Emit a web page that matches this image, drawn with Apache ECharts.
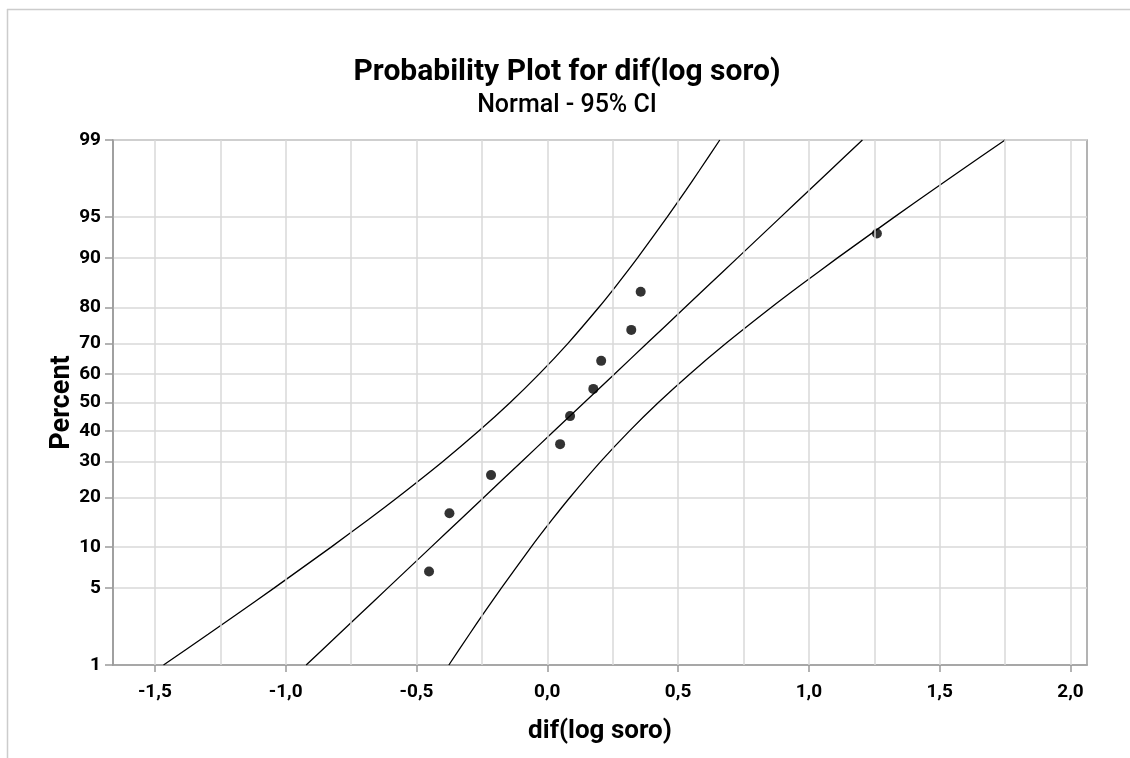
<!DOCTYPE html>
<html>
<head>
<meta charset="utf-8">
<title>Probability Plot for dif(log soro)</title>
<script src="https://cdn.jsdelivr.net/npm/echarts@6/dist/echarts.min.js"></script>
<style>
  html, body { margin: 0; padding: 0; background: #fff; }
  #chart { width: 1130px; height: 758px; }
</style>
</head>
<body>
<div id="chart"></div>
<script>
// Observations of dif(log soro) and their plotting positions (median ranks, %)
const POINT_X   = [-0.452, -0.374, -0.215, 0.049, 0.087, 0.176, 0.206, 0.321, 0.357, 1.260];
const POINT_PCT = [6.7, 16.3, 26.0, 35.6, 45.2, 54.8, 64.4, 74.0, 83.7, 93.3];

// Percent levels at which the fitted line and the 95% confidence bounds are traced
const CURVE_PCT = [1, 2, 3, 5, 10, 15, 20, 30, 40, 50, 60, 70, 80, 85, 90, 95, 97, 98, 99];
const FIT_X     = [-0.9216, -0.7970, -0.7180, -0.6102, -0.4442, -0.3321, -0.2431, -0.0982, 0.0257, 0.1415,
                   0.2573, 0.3812, 0.5261, 0.6151, 0.7272, 0.8932, 1.0010, 1.0800, 1.2046];
const LOWER_X   = [-1.4669, -1.2964, -1.1893, -1.0447, -0.8264, -0.6833, -0.5727, -0.4003, -0.2621, -0.1417,
                   -0.0305, 0.0791, 0.1965, 0.2639, 0.3450, 0.4587, 0.5297, 0.5806, 0.6593];
const UPPER_X   = [-0.3763, -0.2976, -0.2467, -0.1757, -0.0620, 0.0191, 0.0865, 0.2039, 0.3135, 0.4247,
                   0.5451, 0.6833, 0.8557, 0.9663, 1.1094, 1.3277, 1.4723, 1.5794, 1.7499];

// Axis ticks and grid positions
const PERCENT_TICKS = [1, 5, 10, 20, 30, 40, 50, 60, 70, 80, 90, 95, 99];
const X_LABELS      = [-1.5, -1.0, -0.5, 0.0, 0.5, 1.0, 1.5, 2.0];
const X_GRID        = [-1.5, -1.25, -1.0, -0.75, -0.5, -0.25, 0.0, 0.25, 0.5, 0.75, 1.0, 1.25, 1.5, 1.75, 2.0];
const X_MIN = -1.66, X_MAX = 2.063;

// Inverse standard normal CDF (Acklam): maps a percent onto the normal probability scale
function normInv(p) {
  const a = [-3.969683028665376e+01, 2.209460984245205e+02, -2.759285104469687e+02,
             1.383577518672690e+02, -3.066479806614716e+01, 2.506628277459239e+00];
  const b = [-5.447609879822406e+01, 1.615858368580409e+02, -1.556989798598866e+02,
             6.680131188771972e+01, -1.328068155288572e+01];
  const c = [-7.784894002430293e-03, -3.223964580411365e-01, -2.400758277161838e+00,
             -2.549732539343734e+00, 4.374664141464968e+00, 2.938163982698783e+00];
  const d = [7.784695709041462e-03, 3.224671290700398e-01, 2.445134137142996e+00,
             3.754408661907416e+00];
  const pl = 0.02425, ph = 1 - pl;
  let q, r;
  if (p < pl) {
    q = Math.sqrt(-2 * Math.log(p));
    return (((((c[0]*q+c[1])*q+c[2])*q+c[3])*q+c[4])*q+c[5]) /
           ((((d[0]*q+d[1])*q+d[2])*q+d[3])*q+1);
  }
  if (p <= ph) {
    q = p - 0.5; r = q * q;
    return (((((a[0]*r+a[1])*r+a[2])*r+a[3])*r+a[4])*r+a[5])*q /
           (((((b[0]*r+b[1])*r+b[2])*r+b[3])*r+b[4])*r+1);
  }
  q = Math.sqrt(-2 * Math.log(1 - p));
  return -(((((c[0]*q+c[1])*q+c[2])*q+c[3])*q+c[4])*q+c[5]) /
          ((((d[0]*q+d[1])*q+d[2])*q+d[3])*q+1);
}
const zOf = pct => normInv(pct / 100);

const TICK_Z = PERCENT_TICKS.map(zOf);
const pctLabel = v => {
  let best = 0;
  TICK_Z.forEach((z, i) => { if (Math.abs(z - v) < Math.abs(TICK_Z[best] - v)) best = i; });
  return String(PERCENT_TICKS[best]);
};

const FONT = 'Roboto, "Noto Sans", "DejaVu Sans", sans-serif';
const AXIS_GRAY = '#9a9a9a';
const GRID_GRAY = '#d8d8d8';

const curve = xs => xs.map((x, i) => [x, zOf(CURVE_PCT[i])]);
const lineSeries = (name, xs) => ({
  name, type: 'line', data: curve(xs), showSymbol: false, symbol: 'none',
  smooth: 0.2, z: 3, silent: true,
  lineStyle: { color: '#000', width: 1.3 }
});

const chart = echarts.init(document.getElementById('chart'), null, { renderer: 'canvas' });
chart.setOption({
  animation: false,
  backgroundColor: '#fff',
  textStyle: { fontFamily: FONT },
  title: [
    {
      text: 'Probability Plot for dif(log soro)',
      left: 562, top: 52, textAlign: 'center',
      textStyle: { fontFamily: FONT, fontSize: 30, fontWeight: 'bold', color: '#000' }
    },
    {
      text: 'Normal - 95% CI',
      left: 562, top: 88, textAlign: 'center',
      textStyle: { fontFamily: FONT, fontSize: 25, fontWeight: 500, color: '#000' }
    }
  ],
  graphic: [
    { type: 'line', shape: { x1: 7.5, y1: 9, x2: 7.5, y2: 758 }, style: { stroke: '#cccccc', lineWidth: 1.5 } },
    { type: 'line', shape: { x1: 7, y1: 9.5, x2: 1130, y2: 9.5 }, style: { stroke: '#cccccc', lineWidth: 1.5 } }
  ],
  grid: {
    left: 113, top: 140, right: 43, bottom: 93,
    show: true, borderColor: AXIS_GRAY, borderWidth: 1.5, backgroundColor: 'transparent'
  },
  xAxis: {
    type: 'value', min: X_MIN, max: X_MAX,
    name: 'dif(log soro)', nameLocation: 'middle', nameGap: 53,
    nameTextStyle: { fontFamily: FONT, fontSize: 26, fontWeight: 'bold', color: '#000' },
    axisLine: { show: true, onZero: false, lineStyle: { color: AXIS_GRAY, width: 1.5 } },
    axisTick: { show: true, length: 7, customValues: X_LABELS, lineStyle: { color: AXIS_GRAY, width: 1.5 } },
    axisLabel: {
      customValues: X_LABELS, margin: 18,
      fontFamily: FONT, fontSize: 19, fontWeight: 'bold', color: '#000',
      formatter: v => v.toFixed(1).replace('.', ',')
    },
    splitLine: { show: false }
  },
  yAxis: {
    type: 'value', min: zOf(1), max: zOf(99),
    name: 'Percent', nameLocation: 'middle', nameGap: 37, nameRotate: 90,
    nameMoveOverlap: false,
    nameTextStyle: { fontFamily: FONT, fontSize: 27, fontWeight: 'bold', color: '#000' },
    axisLine: { show: true, onZero: false, lineStyle: { color: AXIS_GRAY, width: 1.5 } },
    axisTick: { show: true, length: 8, customValues: TICK_Z, lineStyle: { color: AXIS_GRAY, width: 1.5 } },
    axisLabel: {
      customValues: TICK_Z, margin: 12,
      fontFamily: FONT, fontSize: 19, fontWeight: 'bold', color: '#000',
      formatter: v => pctLabel(v)
    },
    splitLine: { show: true, lineStyle: { color: GRID_GRAY, width: 1.5 } }
  },
  series: [
    {
      // vertical grid lines every 0.25
      name: 'grid', type: 'scatter', data: [], silent: true, z: 1,
      markLine: {
        silent: true, symbol: 'none', animation: false,
        label: { show: false },
        lineStyle: { color: GRID_GRAY, width: 1.5, type: 'solid' },
        data: X_GRID.map(x => ({ xAxis: x }))
      }
    },
    lineSeries('Lower', LOWER_X),
    lineSeries('Fit', FIT_X),
    lineSeries('Upper', UPPER_X),
    {
      name: 'dif(log soro)', type: 'scatter', z: 4, silent: true,
      symbol: 'circle', symbolSize: 10,
      itemStyle: { color: '#000' },
      data: POINT_X.map((x, i) => [x, zOf(POINT_PCT[i])])
    }
  ]
});
</script>
</body>
</html>
